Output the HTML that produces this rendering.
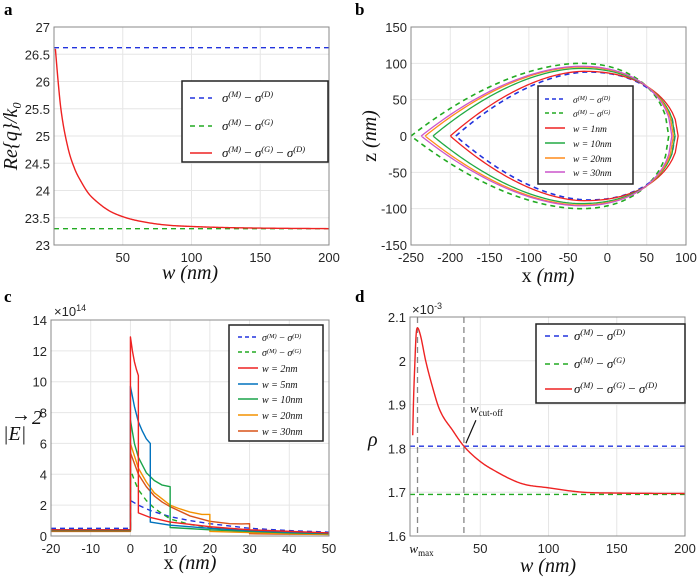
<!DOCTYPE html>
<html><head><meta charset="utf-8">
<style>
body{margin:0;background:#fff;}
svg{display:block;font-family:"Liberation Sans",sans-serif;}
.tick{font-size:13px;fill:#262626;}
.lab{font-family:"Liberation Serif",serif;font-style:italic;font-size:20px;fill:#111;}
.leg{font-family:"Liberation Serif",serif;font-style:italic;fill:#111;}
.pl{font-family:"Liberation Serif",serif;font-weight:bold;font-size:17px;}
</style></head>
<body>
<svg id="fig" width="697" height="577" viewBox="0 0 697 577"></svg>
<script>
// ---- Panel a data ----
const aW=[1,3,5,10,15,20,25,30,40,50,60,80,100,125,150,200];
const aRed=[26.6,26.0,25.5,24.8,24.4,24.15,23.95,23.82,23.63,23.52,23.45,23.37,23.34,23.32,23.31,23.30];
const aBlue=26.62, aGreen=23.30;
const aXTicks=[50,100,150,200], aYTicks=[23,23.5,24,24.5,25,25.5,26,26.5,27];
// ---- Panel b data (shape params per series: tip x, right x, peak z, peak x) ----
const bNames=["sigma-md","sigma-mg","w1","w10","w20","w30"];
const bTip=[-193,-250,-200,-222,-232,-237];
const bRight=[86,78,90,86,84,82];
const bPeak=[88,100,89,93,95,96];
const bPeakX=[-25,-35,-30,-35,-35,-35];
const bXTicks=[-250,-200,-150,-100,-50,0,50,100], bYTicks=[-150,-100,-50,0,50,100,150];
// ---- Panel c data ----
const cX_md=[-20,0,0,2,5,10,15,20,30,40,50], cY_md=[0.5,0.5,2.3,2.0,1.65,1.25,1.0,0.8,0.5,0.35,0.25];
const cX_mg=[-20,0,0,1,2,4,6,10,15,20,30,40,50], cY_mg=[0.4,0.4,4.3,3.6,3.0,2.3,1.8,1.1,0.75,0.55,0.3,0.2,0.15];
const cX_w2=[-20,0,0,0.5,1,1.5,2,2,5,10,20,30,40,50], cY_w2=[0.4,0.4,12.9,12,11.3,10.8,10.4,1.5,1.2,0.9,0.6,0.4,0.3,0.2];
const cX_w5=[-20,0,0,1,2,3,4,5,5,10,20,30,40,50], cY_w5=[0.4,0.4,9.7,8.4,7.4,6.8,6.3,6.0,0.9,0.7,0.5,0.35,0.25,0.18];
const cX_w10=[-20,0,0,1,2,4,6,8,10,10,20,30,40,50], cY_w10=[0.35,0.35,7.5,6.0,5.1,4.1,3.6,3.3,3.2,0.55,0.4,0.3,0.2,0.15];
const cX_w20=[-20,0,0,2,4,6,8,10,12,15,18,20,20,30,40,50], cY_w20=[0.35,0.35,6.0,4.4,3.5,2.8,2.4,2.0,1.8,1.55,1.4,1.4,0.3,0.22,0.15,0.1];
const cX_w30=[-20,0,0,2,4,6,8,10,15,20,25,28,30,30,40,50], cY_w30=[0.3,0.3,5.4,4.0,3.2,2.6,2.2,1.9,1.3,0.95,0.8,0.78,0.8,0.15,0.12,0.1];
const cXTicks=[-20,-10,0,10,20,30,40,50], cYTicks=[0,2,4,6,8,10,12,14];
// ---- Panel d data ----
const dW=[0.5,1,2,3,4,6,10,15,20,30,38,50,60,80,100,125,150,200];
const dRed=[1.83,1.9,1.99,2.06,2.075,2.06,2.0,1.94,1.89,1.84,1.805,1.77,1.75,1.72,1.71,1.70,1.698,1.697];
const dBlue=1.805, dGreen=1.695, dWmax=4, dWcut=38;
const dXTicks=[50,100,150,200], dYTicks=[1.6,1.7,1.8,1.9,2.0,2.1];

const NS="http://www.w3.org/2000/svg";
const fig=document.getElementById('fig');
function el(tag,attrs,parent,text){const e=document.createElementNS(NS,tag);for(const k in attrs)e.setAttribute(k,attrs[k]);if(text!==undefined)e.textContent=text;(parent||fig).appendChild(e);return e;}
function scale(d0,d1,r0,r1){return v=>r0+(v-d0)/(d1-d0)*(r1-r0);}
function smooth(xs,ys){const n=xs.length,d=[],m=[];
  for(let i=0;i<n-1;i++)d.push((ys[i+1]-ys[i])/(xs[i+1]-xs[i]));
  m[0]=d[0];m[n-1]=d[n-2];
  for(let i=1;i<n-1;i++)m[i]=(d[i-1]*d[i]<=0)?0:(d[i-1]+d[i])/2;
  for(let i=0;i<n-1;i++){if(d[i]===0){m[i]=0;m[i+1]=0;continue;}const a=m[i]/d[i],b=m[i+1]/d[i],s=a*a+b*b;if(s>9){const t=3/Math.sqrt(s);m[i]=t*a*d[i];m[i+1]=t*b*d[i];}}
  const X=[],Y=[];
  for(let i=0;i<n-1;i++){const h=xs[i+1]-xs[i];for(let k=0;k<20;k++){const t=k/20,t2=t*t,t3=t2*t;
    X.push(xs[i]+t*h);Y.push((2*t3-3*t2+1)*ys[i]+(t3-2*t2+t)*h*m[i]+(-2*t3+3*t2)*ys[i+1]+(t3-t2)*h*m[i+1]);}}
  X.push(xs[n-1]);Y.push(ys[n-1]);return [X,Y];}
function axes(g,L,T,R,B,sx,sy,xt,yt,xfmt,yfmt){
  el('rect',{x:L,y:T,width:R-L,height:B-T,fill:'#fff'},g);
  xt.forEach(v=>{const gl=el('line',{x1:sx(v),x2:sx(v),y1:T,y2:B,stroke:'#e6e6e6','stroke-width':1},g);
    
    const t=el('text',{x:sx(v),y:B+17,'text-anchor':'middle',class:'tick'},g,xfmt(v));
    });
  yt.forEach(v=>{const gl=el('line',{x1:L,x2:R,y1:sy(v),y2:sy(v),stroke:'#e6e6e6','stroke-width':1},g);
    
    const t=el('text',{x:L-4,y:sy(v)+5,'text-anchor':'end',class:'tick'},g,yfmt(v));
    });
}
function box(g,L,T,R,B){const r=el('rect',{x:L,y:T,width:R-L,height:B-T,fill:'none',stroke:'#888','stroke-width':1},g);
  }
function poly(g,xs,ys,sx,sy,color,dash,w){const p=xs.map((x,i)=>sx(x).toFixed(2)+','+sy(ys[i]).toFixed(2)).join(' ');
  const o={points:p,fill:'none',stroke:color,'stroke-width':w||1.4,'stroke-linejoin':'round'};if(dash)o['stroke-dasharray']=dash;return el('polyline',o,g);}
function sigma(parent,x,y,size,parts){
  const t=el('text',{x:x,y:y,class:'leg','font-size':size},parent);
  parts.forEach((p,i)=>{if(i>0)el('tspan',{'font-style':'normal'},t,' − ');el('tspan',{},t,'σ');
    el('tspan',{'baseline-shift':'super','font-size':size*0.65},t,'('+p+')');});
  return t;}
function legend(g,x,y,w,h,items,lx1,lx2,tx,size){
  const r=el('rect',{x:x,y:y,width:w,height:h,fill:'#fff',stroke:'#222','stroke-width':1.5},g);
  
  items.forEach(it=>{const gg=el('g',{},g);
    const o={x1:lx1,x2:lx2,y1:it.y,y2:it.y,stroke:it.c,'stroke-width':1.6};if(it.d)o['stroke-dasharray']=it.d;el('line',o,gg);
    if(it.s)sigma(gg,tx,it.y+4,size,it.s);else el('text',{x:tx,y:it.y+4,class:'leg','font-size':size},gg,it.t);});
}
const BLUE='#2233dd',GREEN='#22aa22',RED='#ee2222';
const DASH='5,4';
function plabel(t,x,y){const e=el('text',{x:x,y:y,class:'pl'},fig,t);}

// ===== Panel a =====
(function(){
const g=el('g',{});
const L=54,T=27,R=329,B=245;const sx=scale(0,200,L,R),sy=scale(23,27,B,T);
axes(g,L,T,R,B,sx,sy,aXTicks,aYTicks,v=>v,v=>v);
const lb=el('line',{x1:L,x2:R,y1:sy(aBlue),y2:sy(aBlue),stroke:BLUE,'stroke-width':1.4,'stroke-dasharray':DASH},g);

const lg=el('line',{x1:L,x2:R,y1:sy(aGreen),y2:sy(aGreen),stroke:GREEN,'stroke-width':1.4,'stroke-dasharray':DASH},g);

const sm=smooth(aW,aRed);
const r=poly(g,sm[0],sm[1],sx,sy,RED);
box(g,L,T,R,B);
legend(g,182,81,146,81,[{y:98,c:BLUE,d:DASH,s:['M','D']},{y:126,c:GREEN,d:DASH,s:['M','G']},{y:153,c:RED,s:['M','G','D']}],190,212,222,13);
const yl=el('text',{x:0,y:0,class:'lab',transform:'translate(17,136) rotate(-90)','text-anchor':'middle'},g,'Re{q}/k₀');

const xl=el('text',{x:190,y:279,class:'lab','text-anchor':'middle'},g,'w (nm)');

})();
plabel('a',4,15);

// ===== Panel b =====
(function(){
const g=el('g',{});
const L=411,T=27,R=686,B=245;const sx=scale(-250,100,L,R),sy=scale(-150,150,B,T);
axes(g,L,T,R,B,sx,sy,bXTicks,bYTicks,v=>v,v=>v);
const cols=[BLUE,GREEN,'#ee2222','#22aa44','#ff8c1a','#cc55cc'];
const dashes=[DASH,DASH,null,null,null,null];
bNames.forEach((n,i)=>{
  const tip=bTip[i],rt=bRight[i],pk=bPeak[i],px=bPeakX[i];const up=(px-tip)/(rt-tip);
  const xs=[],ys=[];
  for(let k=0;k<=80;k++){const u=k/80;let f;
    if(u<up){const s=u/up;f=1-Math.pow(1-s,1.8);}else{const s=(u-up)/(1-up);f=Math.sqrt(Math.max(0,1-Math.pow(s,2.2)));}
    xs.push(tip+u*(rt-tip));ys.push(pk*f);}
  const X=xs.concat(xs.slice().reverse()),Y=ys.concat(ys.slice().reverse().map(v=>-v));
  const p=poly(g,X,Y,sx,sy,cols[i],dashes[i],dashes[i]?1.6:1.3);
  
});
box(g,L,T,R,B);
legend(g,538,86,95,98,[{y:99,c:BLUE,d:'4,3',s:['M','D']},{y:113,c:GREEN,d:'4,3',s:['M','G']},{y:128,c:'#ee2222',t:'w = 1nm'},{y:143,c:'#22aa44',t:'w = 10nm'},{y:158,c:'#ff8c1a',t:'w = 20nm'},{y:172,c:'#cc55cc',t:'w = 30nm'}],545,565,573,9.5);
const yl=el('text',{x:0,y:0,class:'lab',transform:'translate(376,136) rotate(-90)','text-anchor':'middle'},g);
el('tspan',{'font-style':'normal'},yl,'z ');el('tspan',{},yl,'(nm)');

const xl=el('text',{x:548,y:282,class:'lab','text-anchor':'middle'},g);
el('tspan',{'font-style':'normal'},xl,'x ');el('tspan',{},xl,'(nm)');

})();
plabel('b',355,15);

// ===== Panel c =====
(function(){
const g=el('g',{});
const L=51,T=320,R=329,B=536;const sx=scale(-20,50,L,R),sy=scale(0,14,B,T);
axes(g,L,T,R,B,sx,sy,cXTicks,cYTicks,v=>v,v=>v);
const ser=[[cX_md,cY_md,BLUE,DASH,'sigma-md'],[cX_mg,cY_mg,GREEN,DASH,'sigma-mg'],[cX_w30,cY_w30,'#d95319',null,'w30'],[cX_w20,cY_w20,'#f39200',null,'w20'],[cX_w10,cY_w10,'#1aa34a',null,'w10'],[cX_w5,cY_w5,'#0072bd',null,'w5'],[cX_w2,cY_w2,'#ee2222',null,'w2']];
ser.forEach(s=>{const p=poly(g,s[0],s[1],sx,sy,s[2],s[3],1.4);});
box(g,L,T,R,B);
const ex=el('text',{x:54,y:316,class:'tick','font-size':12},g);el('tspan',{},ex,'×10');el('tspan',{'baseline-shift':'super','font-size':9},ex,'14');

legend(g,229,325,94,116,[{y:337,c:BLUE,d:'4,3',s:['M','D']},{y:352,c:GREEN,d:'4,3',s:['M','G']},{y:368,c:'#ee2222',t:'w = 2nm'},{y:384,c:'#0072bd',t:'w = 5nm'},{y:399,c:'#1aa34a',t:'w = 10nm'},{y:415,c:'#f39200',t:'w = 20nm'},{y:431,c:'#d95319',t:'w = 30nm'}],238,258,262,10);
const yg=el('g',{},g);
el('text',{x:3,y:440,class:'lab','font-size':22},yg,'|E|');
el('text',{x:11,y:421,class:'lab','font-size':12,'font-style':'normal'},yg,'→');
el('text',{x:32,y:424,class:'lab','font-size':12,'font-style':'normal'},yg,'2');
const xl=el('text',{x:190,y:569,class:'lab','text-anchor':'middle'},g);
el('tspan',{'font-style':'normal'},xl,'x ');el('tspan',{},xl,'(nm)');

})();
plabel('c',4,302);

// ===== Panel d =====
(function(){
const g=el('g',{});
const L=410,T=317,R=685,B=536;const sx=scale(-1.5,200,L,R),sy=scale(1.6,2.1,B,T);
axes(g,L,T,R,B,sx,sy,dXTicks,dYTicks,v=>v,v=>v===2?'2':v.toFixed(1));
[dWmax,dWcut].forEach(v=>{const l=el('line',{x1:sx(v),x2:sx(v),y1:T,y2:B,stroke:'#888','stroke-width':1.3,'stroke-dasharray':'6,4'},g);
  });
const lb=el('line',{x1:L,x2:R,y1:sy(dBlue),y2:sy(dBlue),stroke:BLUE,'stroke-width':1.4,'stroke-dasharray':DASH},g);

const lg=el('line',{x1:L,x2:R,y1:sy(dGreen),y2:sy(dGreen),stroke:GREEN,'stroke-width':1.4,'stroke-dasharray':DASH},g);

const sm=smooth(dW,dRed);
const r=poly(g,sm[0],sm[1],sx,sy,RED);
box(g,L,T,R,B);
const ex=el('text',{x:412,y:314,class:'tick','font-size':12},g);el('tspan',{},ex,'×10');el('tspan',{'baseline-shift':'super','font-size':9},ex,'-3');

const wm=el('text',{x:sx(dWmax)+4,y:B+17,class:'leg','font-size':13,'text-anchor':'middle'},g);el('tspan',{},wm,'w');el('tspan',{'font-style':'normal','font-size':9,dy:3},wm,'max');

const wc=el('text',{x:sx(dWcut)+6,y:sy(dBlue)-33,class:'leg','font-size':13},g);el('tspan',{},wc,'w');el('tspan',{'font-style':'normal','font-size':9,dy:3},wc,'cut-off');

const ar=el('line',{x1:sx(dWcut)+12,y1:sy(dBlue)-26,x2:sx(dWcut)+2,y2:sy(dBlue)-3,stroke:'#111','stroke-width':1.2},g);

legend(g,536,324,149,79,[{y:336,c:BLUE,d:DASH,s:['M','D']},{y:364,c:GREEN,d:DASH,s:['M','G']},{y:389,c:RED,s:['M','G','D']}],545,572,574,13);
const yl=el('text',{x:368,y:446,class:'lab','font-size':22},g,'ρ');

const xl=el('text',{x:548,y:572,class:'lab','text-anchor':'middle'},g,'w (nm)');

})();
plabel('d',355,302);
</script>
</body></html>
